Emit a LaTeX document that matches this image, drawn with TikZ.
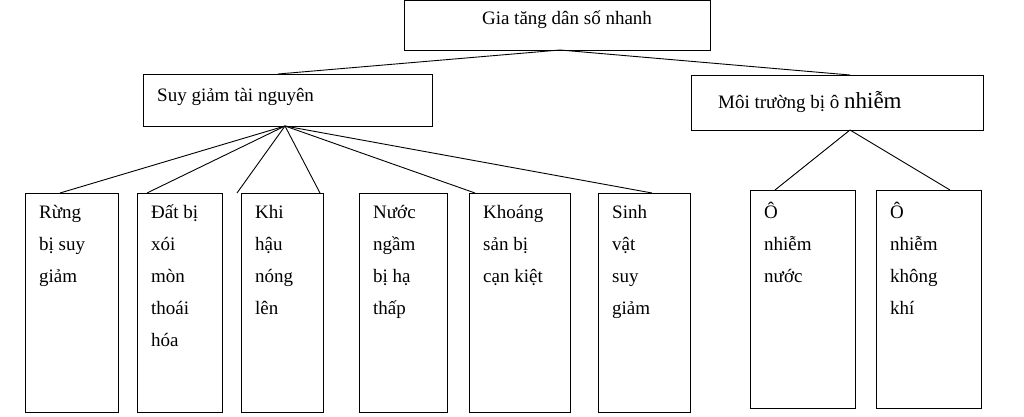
\documentclass[tikz,border=0pt]{standalone}
\usepackage{fontspec}
\setmainfont{Liberation Serif}
\begin{document}
\begin{tikzpicture}[x=1pt,y=-1pt,
  box/.style={draw,line width=0.9pt,inner sep=0,anchor=north west},
  txt/.style={anchor=north west,align=left,inner sep=0,font=\fontsize{19}{32}\selectfont},
  ln/.style={line width=0.9pt}]
\useasboundingbox[fill=white] (0,0) rectangle (1024,417);
\node[box,minimum width=306,minimum height=50] (top) at (404,0) {};
\node[font=\fontsize{19}{24}\selectfont] at (567,20) {Gia tăng dân số nhanh};
\node[box,minimum width=289,minimum height=52] (sg) at (143,74) {};
\node[txt] at (157,88) {Suy giảm tài nguyên};
\node[box,minimum width=292,minimum height=55] (mt) at (691,75) {};
\node[anchor=west,inner sep=0] at (718,102) {\fontsize{19}{24}\selectfont Môi trường bị ô \fontsize{23}{24}\selectfont nhiễm};
\foreach \n/\x/\w/\t in {b1/25/93/{Rừng\\bị suy\\giảm},b2/137/85/{Đất bị\\xói\\mòn\\thoái\\hóa},b3/241/82/{Khi\\hậu\\nóng\\lên},b4/359/88/{Nước\\ngầm\\bị hạ\\thấp},b5/469/101/{Khoáng\\sản bị\\cạn kiệt},b6/598/92/{Sinh\\vật\\suy\\giảm}}{
  \node[box,minimum width=\w,minimum height=219] (\n) at (\x,193) {};
  \node[txt] at (\x+14,205) {\t};
}
\node[box,minimum width=105,minimum height=218] (b7) at (750,190) {};
\node[txt] at (764,202) {Ô\\nhiễm\\nước};
\node[box,minimum width=105,minimum height=218] (b8) at (876,190) {};
\node[txt] at (890,202) {Ô\\nhiễm\\không\\khí};
\coordinate (tb) at (560,50);
\coordinate (sgt) at (278,74);
\coordinate (mtt) at (850,75);
\draw[ln] (tb) -- (sgt);
\draw[ln] (tb) -- (mtt);
\coordinate (sgb) at (285,126);
\foreach \n/\x in {b1/60,b2/147,b3/237,b4/320,b5/475,b6/652}
  \draw[ln] (sgb) -- (\x,193);
\coordinate (mtb) at (850,130);
\draw[ln] (mtb) -- (775,190);
\draw[ln] (mtb) -- (950,190);
\end{tikzpicture}
\end{document}
